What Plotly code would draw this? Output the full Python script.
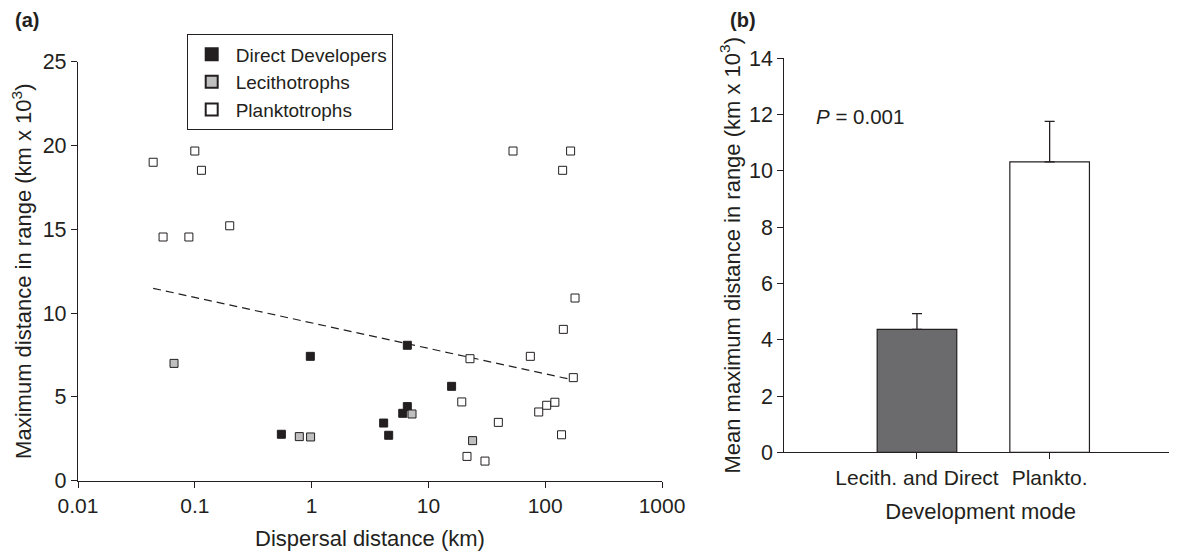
import plotly.graph_objects as go

# ---------------- data ----------------
direct_x = [0.551, 0.975, 4.14, 4.57, 6.03, 6.6, 6.6, 15.8]
direct_y = [2.77, 7.42, 3.44, 2.71, 4.02, 4.42, 8.08, 5.63]

lecith_x = [0.0664, 0.785, 0.98, 7.24, 23.9]
lecith_y = [7.0, 2.63, 2.61, 3.98, 2.39]

plank_x = [0.044, 0.100, 0.114, 0.0535, 0.089, 0.199, 53, 165, 141, 180, 143,
           74.6, 22.7, 174, 19.3, 88, 103, 121, 39.7, 138, 21.4, 30.5]
plank_y = [19.0, 19.67, 18.52, 14.54, 14.54, 15.21, 19.67, 19.67, 18.52, 10.9, 9.03,
           7.42, 7.28, 6.15, 4.70, 4.10, 4.50, 4.68, 3.48, 2.74, 1.45, 1.17]

trend_x = [0.044, 174]
trend_y = [11.48, 6.01]

x_tick_vals = [0.01, 0.1, 1, 10, 100, 1000]
x_tick_text = ["0.01", "0.1", "1", "10", "100", "1000"]

modes = ["Lecith. and Direct", "Plankto."]
mode_means = [4.37, 10.32]
mode_se = [0.56, 1.44]

# ---------------- style ----------------
INK = "#231f20"
FONT = "Liberation Sans, Arial, Helvetica, sans-serif"
# the page body has an 8px default margin, so the figure is drawn 8px in
W, H = 1169, 545

fig = go.Figure()

fig.add_trace(go.Scatter(
    x=trend_x, y=trend_y, mode="lines", showlegend=False,
    line=dict(color=INK, width=1.2, dash="8px,5px"), hoverinfo="skip",
    xaxis="x", yaxis="y"))

fig.add_trace(go.Scatter(
    x=direct_x, y=direct_y, mode="markers", name="Direct Developers",
    marker=dict(symbol="square", size=8, color=INK, line=dict(color=INK, width=1)),
    xaxis="x", yaxis="y"))
fig.add_trace(go.Scatter(
    x=lecith_x, y=lecith_y, mode="markers", name="Lecithotrophs",
    marker=dict(symbol="square", size=8, color="#bfbfbf", line=dict(color=INK, width=1)),
    xaxis="x", yaxis="y"))
fig.add_trace(go.Scatter(
    x=plank_x, y=plank_y, mode="markers", name="Planktotrophs",
    marker=dict(symbol="square", size=8, color="white", line=dict(color=INK, width=1)),
    xaxis="x", yaxis="y"))

fig.add_trace(go.Bar(
    x=modes, y=mode_means, width=0.6, showlegend=False,
    marker=dict(color=["#6b6b6d", "white"], line=dict(color=INK, width=1.2)),
    error_y=dict(type="data", symmetric=False, array=mode_se,
                 arrayminus=[0, 0], color=INK, thickness=1.3, width=5),
    xaxis="x2", yaxis="y2"))

axis_common = dict(showgrid=False, zeroline=False, showline=True, linecolor=INK,
                   linewidth=1.3, ticks="outside", ticklen=6, tickcolor=INK,
                   tickwidth=1.3, automargin=False,
                   tickfont=dict(family=FONT, size=21, color=INK))
ytick_font = dict(family=FONT, size=21.5, color=INK)

fig.update_layout(
    width=W, height=H,
    margin=dict(l=0, r=0, t=0, b=0),
    paper_bgcolor="white", plot_bgcolor="white",
    font=dict(family=FONT, color=INK),
    xaxis=dict(axis_common, type="log", range=[-2, 3], domain=[70 / W, 654 / W],
               tickvals=x_tick_vals, ticktext=x_tick_text, anchor="y",
               title=dict(text="Dispersal distance (km)", standoff=14,
                          font=dict(family=FONT, size=22, color=INK))),
    yaxis=dict(axis_common, range=[0, 25], dtick=5, tickfont=ytick_font,
               domain=[1 - 472.7 / H, 1 - 53.7 / H], anchor="x",
               title=dict(text="Maximum distance in range (km x 10<sup>3</sup>)",
                          standoff=4, font=dict(family=FONT, size=22, color=INK))),
    xaxis2=dict(axis_common, range=[-1, 1.96], domain=[776.3 / W, 1.0], anchor="y2",
                title=dict(text="Development mode", standoff=15,
                           font=dict(family=FONT, size=22, color=INK))),
    yaxis2=dict(axis_common, range=[0, 14], dtick=2, tickfont=ytick_font,
                domain=[1 - 444.3 / H, 1 - 50.3 / H], anchor="x2",
                title=dict(text="Mean maximum distance in range (km x 10<sup>3</sup>)",
                           standoff=2, font=dict(family=FONT, size=22, color=INK))),
    legend=dict(x=178.7 / W, y=1 - 26.3 / H, xanchor="left", yanchor="top",
                bordercolor=INK, borderwidth=1, bgcolor="white",
                font=dict(family=FONT, size=19, color=INK),
                itemwidth=38, itemsizing="constant", tracegroupgap=0),
    annotations=[
        dict(text="<b>(a)</b>", x=5 / W, y=1 - 12 / H, xref="paper", yref="paper",
             xanchor="left", yanchor="middle", showarrow=False,
             font=dict(family=FONT, size=20, color=INK)),
        dict(text="<b>(b)</b>", x=720 / W, y=1 - 12 / H, xref="paper", yref="paper",
             xanchor="left", yanchor="middle", showarrow=False,
             font=dict(family=FONT, size=20, color=INK)),
        dict(text="<i>P</i> = 0.001", x=806 / W, y=1 - 108 / H, xref="paper",
             yref="paper", xanchor="left", yanchor="middle", showarrow=False,
             font=dict(family=FONT, size=20.5, color=INK)),
    ],
)

fig.write_html("out.html")
